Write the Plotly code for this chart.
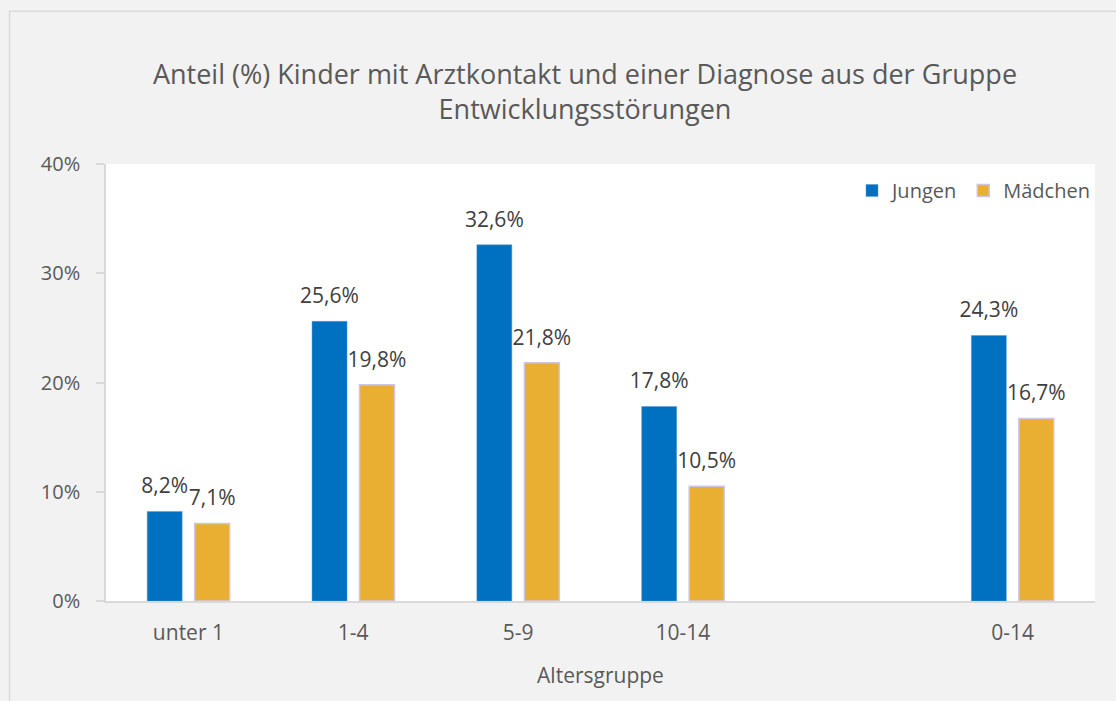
import plotly.graph_objects as go

categories = ["unter 1", "1-4", "5-9", "10-14", " ", "0-14"]
jungen = [8.2, 25.6, 32.6, 17.8, None, 24.3]
maedchen = [7.1, 19.8, 21.8, 10.5, None, 16.7]
y_ticks = [0, 10, 20, 30, 40]
y_ticktext = [f"{v}%" for v in y_ticks]

FONT = "Open Sans"
TXT = "#595959"
LBL = "#404040"
BLUE = "#0070C0"
ORANGE = "#E9AF33"

W, H = 1116, 701
L, T, R, B = 106, 163.5, 21, 100
PW = W - L - R
PH = H - T - B
BOTTOM = H - B  # pixel row of the x axis

fig = go.Figure()
fig.add_trace(go.Bar(
    name="Jungen", x=categories, y=jungen,
    marker=dict(color=BLUE, line=dict(color="#5B9BD5", width=0.5)),
))
fig.add_trace(go.Bar(
    name="Mädchen", x=categories, y=maedchen,
    marker=dict(color=ORANGE, line=dict(color="#CFC6E3", width=1.5)),
))
for name, vals in (("Jungen", jungen), ("Mädchen", maedchen)):
    fig.add_trace(go.Scatter(
        name=name, x=categories, y=vals, mode="markers+text",
        marker=dict(size=19, color="rgba(0,0,0,0)"),
        texttemplate="%{y:.1f}%", textposition="top center",
        textfont=dict(size=21, color=LBL, family=FONT),
        showlegend=False, cliponaxis=False, hoverinfo="skip",
    ))

fig.update_layout(
    width=W, height=H,
    separators=",.",
    paper_bgcolor="#F2F2F2", plot_bgcolor="#FFFFFF",
    margin=dict(l=L, r=R, t=T, b=B, autoexpand=False),
    font=dict(family=FONT, size=20, color=TXT),
    barmode="group", bargap=0.424, bargroupgap=0.263,
    scattermode="group", scattergap=0.424,
    title=dict(
        text="Anteil (%) Kinder mit Arztkontakt und einer Diagnose aus der Gruppe<br>Entwicklungsstörungen",
        x=585 / W, xanchor="center", y=1 - 84 / H, yanchor="middle",
        font=dict(size=27, color=TXT, family=FONT),
    ),
    legend=dict(
        orientation="h", x=1.0, xanchor="right", y=(BOTTOM - 190) / PH, yanchor="middle",
        bgcolor="rgba(0,0,0,0)", font=dict(size=20, color=TXT, family=FONT),
        itemwidth=30, traceorder="normal",
    ),
    xaxis=dict(
        type="category", categoryorder="array", categoryarray=categories,
        showline=True, linecolor="#D9D9D9", linewidth=1.5,
        ticks="", showgrid=False, ticklabelstandoff=12,
        tickfont=dict(size=21, color=TXT),
        title=dict(text="Altersgruppe", font=dict(size=21, color=TXT), standoff=23),
    ),
    yaxis=dict(
        range=[0, 40], tickmode="array", tickvals=y_ticks, ticktext=y_ticktext,
        showline=True, linecolor="#D9D9D9", linewidth=1.5,
        ticks="outside", ticklen=8, tickcolor="#D9D9D9", tickwidth=1.5,
        showgrid=False, zeroline=False, ticklabelstandoff=12,
        tickfont=dict(size=20, color=TXT),
    ),
    shapes=[dict(
        type="rect", xref="paper", yref="paper",
        x0=(9.5 - L) / PW, x1=1.3, y0=-0.4, y1=(BOTTOM - 10.5) / PH,
        line=dict(color="#D9D9D9", width=1.5), fillcolor="rgba(0,0,0,0)", layer="below",
    )],
)

fig.write_html(
    "out.html",
    config={"displayModeBar": False},
    post_script="document.body.style.margin='0';document.body.style.overflow='hidden';",
)
